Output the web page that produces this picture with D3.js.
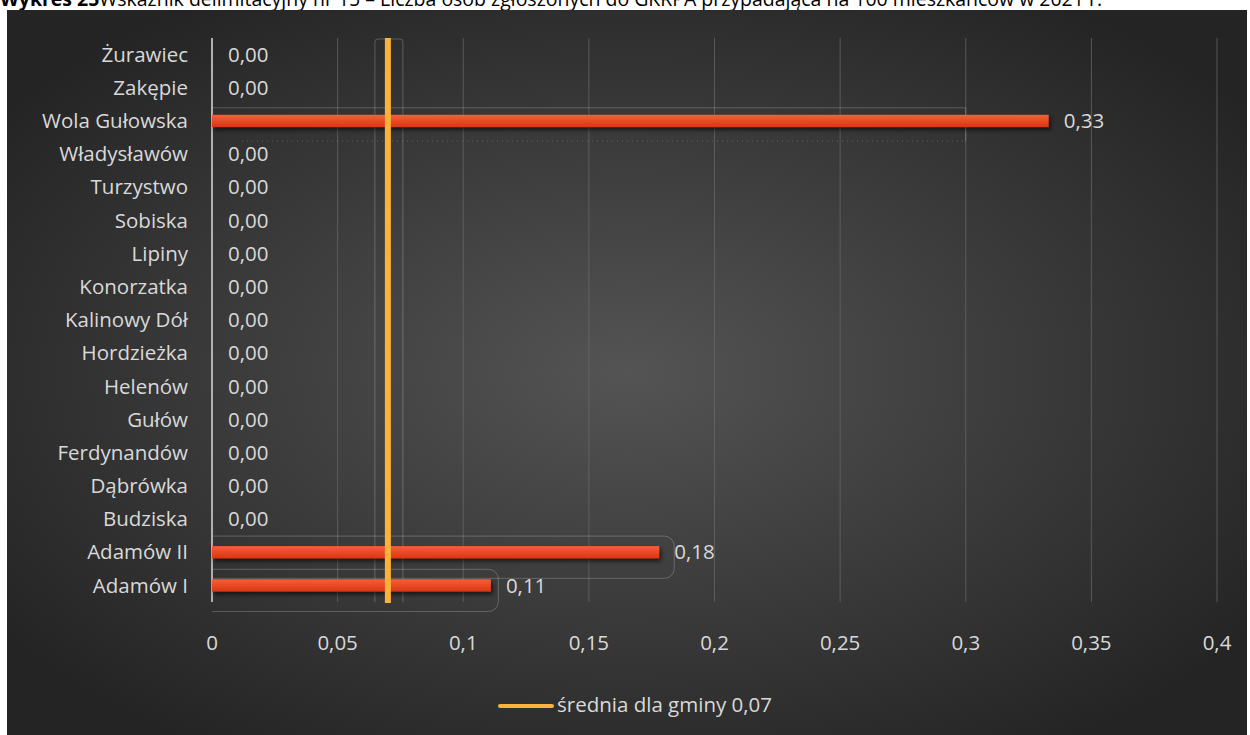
<!DOCTYPE html>
<html><head><meta charset="utf-8">
<script src="https://cdn.jsdelivr.net/npm/d3@7"></script>
<style>
html,body{margin:0;padding:0;background:#fff;}
svg{display:block;font-family:"Open Sans","Noto Sans",sans-serif;}
</style></head>
<body>
<svg id="c" width="1250" height="735"></svg>
<script>
const categories = ["Żurawiec","Zakępie","Wola Gułowska","Władysławów","Turzystwo","Sobiska","Lipiny","Konorzatka","Kalinowy Dół","Hordzieżka","Helenów","Gułów","Ferdynandów","Dąbrówka","Budziska","Adamów II","Adamów I"];
const values = [0,0,0.333,0,0,0,0,0,0,0,0,0,0,0,0,0.178,0.111];
const valueLabels = ["0,00","0,00","0,33","0,00","0,00","0,00","0,00","0,00","0,00","0,00","0,00","0,00","0,00","0,00","0,00","0,18","0,11"];
const xTicks = [0,0.05,0.1,0.15,0.2,0.25,0.3,0.35,0.4];
const xTickLabels = ["0","0,05","0,1","0,15","0,2","0,25","0,3","0,35","0,4"];
const average = 0.07;
const legendLabel = "średnia dla gminy 0,07";
const titleBold = "Wykres 25";
const titleRest = "Wskaźnik delimitacyjny nr 15 – Liczba osób zgłoszonych do GKRPA przypadająca na 100 mieszkańców w 2021 r.";

const FS = 20.5;
const svg = d3.select("#c");
const defs = svg.append("defs");
const rg = defs.append("radialGradient").attr("id","bg").attr("cx","50%").attr("cy","50%").attr("r","62%");
rg.append("stop").attr("offset","0%").attr("stop-color","#545454");
rg.append("stop").attr("offset","100%").attr("stop-color","#242424");
const bgr = defs.append("linearGradient").attr("id","bar").attr("x1",0).attr("y1",0).attr("x2",0).attr("y2",1);
bgr.append("stop").attr("offset","0%").attr("stop-color","#f4603a");
bgr.append("stop").attr("offset","100%").attr("stop-color","#dc3510");
const sh = defs.append("filter").attr("id","sh").attr("x","-5%").attr("y","-50%").attr("width","110%").attr("height","250%");
sh.append("feDropShadow").attr("dx",2).attr("dy",3).attr("stdDeviation",2).attr("flood-color","#000").attr("flood-opacity",0.6);

// title (cut off at top, as in the reference)
const tt = svg.append("text").attr("x",0).attr("y",6).attr("font-size",20).attr("fill","#000");
tt.append("tspan").attr("font-weight","bold").text(titleBold);
tt.append("tspan").text(titleRest);
const tlen = tt.node().getComputedTextLength();
tt.attr("font-size", 20 * 1103 / tlen);

// chart area
svg.append("rect").attr("x",7).attr("y",10).attr("width",1240).attr("height",725).attr("fill","url(#bg)");

const x = d3.scaleLinear().domain([0,0.4]).range([212,1217]);
const y = d3.scaleBand().domain(categories).range([38,602]).paddingInner(0.63).paddingOuter(0.315);

// gridlines
svg.append("g").selectAll("line").data(xTicks.slice(1)).join("line")
  .attr("x1",d=>x(d)).attr("x2",d=>x(d)).attr("y1",38).attr("y2",602)
  .attr("stroke","#6a6a6a").attr("stroke-width",1).attr("opacity",0.7);

// faint selection artifacts
const art = svg.append("g").attr("fill","none").attr("stroke","rgba(255,255,255,0.22)").attr("stroke-width",1);
art.append("path").attr("d",`M${x(0)},${y("Wola Gułowska")-7}H${x(0.3)}V${y("Wola Gułowska")+y.bandwidth()+14}`);
art.append("line").attr("x1",x(0)+30).attr("x2",x(0.3)).attr("y1",y("Wola Gułowska")+y.bandwidth()+14).attr("y2",y("Wola Gułowska")+y.bandwidth()+14).attr("stroke-dasharray","1,4");
const a2 = y("Adamów II"), a1 = y("Adamów I");
art.append("path").attr("d",`M${x(0)},${a2-10}H${x(0.18)}a10,10 0 0 1 10,10V${a2+y.bandwidth()+10}a10,10 0 0 1 -10,10H${x(0)}`);
art.append("path").attr("d",`M${x(0)},${a1-10}H${x(0.11)}a10,10 0 0 1 10,10V${a1+y.bandwidth()+10}a10,10 0 0 1 -10,10H${x(0)}`);
art.append("path").attr("d",`M${x(average)-13},602V42a3,3 0 0 1 3,-3H${x(average)+12}a3,3 0 0 1 3,3V602`);

// axis line
svg.append("line").attr("x1",x(0)).attr("x2",x(0)).attr("y1",38).attr("y2",602).attr("stroke","#b0b0b0").attr("stroke-width",2);

// bars
svg.append("g").selectAll("rect").data(values).join("rect")
  .attr("x",x(0)).attr("y",(d,i)=>y(categories[i]))
  .attr("width",d=>x(d)-x(0)).attr("height",y.bandwidth())
  .attr("fill","url(#bar)").attr("filter","url(#sh)");

// category labels
svg.append("g").selectAll("text").data(categories).join("text")
  .attr("x",188).attr("y",d=>y(d)+y.bandwidth()/2).attr("dy","0.35em")
  .attr("text-anchor","end").attr("font-size",FS).attr("fill","#d9d9d9").text(d=>d);

// value labels
svg.append("g").selectAll("text").data(values).join("text")
  .attr("x",d=>d===0?x(0)+16:x(d)+15).attr("y",(d,i)=>y(categories[i])+y.bandwidth()/2).attr("dy","0.35em")
  .attr("font-size",FS).attr("fill","#d9d9d9").text((d,i)=>valueLabels[i]);

// average line
svg.append("line").attr("x1",x(average)).attr("x2",x(average)).attr("y1",38).attr("y2",603)
  .attr("stroke","#fbb23a").attr("stroke-width",6);

// x axis tick labels
svg.append("g").selectAll("text").data(xTicks).join("text")
  .attr("x",d=>x(d)).attr("y",643).attr("dy","0.35em").attr("text-anchor","middle")
  .attr("font-size",FS).attr("fill","#d9d9d9").text((d,i)=>xTickLabels[i]);

// legend
svg.append("line").attr("x1",500).attr("x2",552).attr("y1",706).attr("y2",706).attr("stroke","#fbb23a").attr("stroke-width",4).attr("stroke-linecap","round");
svg.append("text").attr("x",557).attr("y",705).attr("dy","0.35em").attr("font-size",FS).attr("fill","#d9d9d9").text(legendLabel);
</script>
</body></html>
